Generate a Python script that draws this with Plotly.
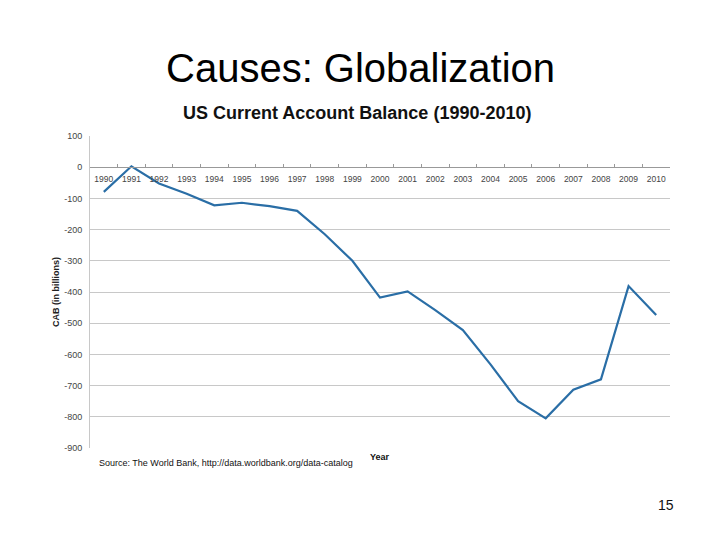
import plotly.graph_objects as go

years = [str(y) for y in range(1990, 2011)]
cab = [-79, 3, -52, -85, -122, -114, -125, -140, -215, -300, -418, -398,
       -458, -522, -632, -750, -805, -713, -680, -381, -474]
y_ticks = [100, 0, -100, -200, -300, -400, -500, -600, -700, -800, -900]
y_tick_text = [str(v) for v in y_ticks]

ymin, ymax = -900, 100
dom = [0.0, 1.0]
zero_pos = dom[0] + (0 - ymin) / (ymax - ymin) * (dom[1] - dom[0])

# page body has an 8px margin; shift everything accordingly
OFF = 8
W, H = 720 - OFF, 540 - OFF
l, t = 90 - OFF, 136 - OFF
r = 50
b = H - (448 - OFF)

fig = go.Figure()
fig.add_trace(go.Scatter(x=years, y=cab, mode="lines",
                         line=dict(color="#2a6ea6", width=2.2),
                         showlegend=False, hoverinfo="x+y"))

fig.update_layout(
    width=W, height=H,
    paper_bgcolor="white", plot_bgcolor="white",
    margin=dict(l=l, r=r, t=t, b=b, autoexpand=False),
    font=dict(family="Arial, Liberation Sans, sans-serif", color="#222"),
    xaxis=dict(type="category", range=[-0.5, 20.5], anchor="free",
               position=zero_pos, showgrid=False, automargin=False,
               tickangle=0, ticklabelstandoff=4,
               ticks="inside", tickson="boundaries", ticklen=3,
               tickcolor="#999", showline=True, linecolor="#999",
               linewidth=1,
               tickfont=dict(size=8.5, color="#444"), zeroline=False),
    yaxis=dict(range=[ymin, ymax], tickvals=y_ticks, ticktext=y_tick_text,
               showgrid=True, automargin=False, ticklabelstandoff=5,
               gridcolor="#c8c8c8", gridwidth=1, zeroline=False,
               showline=True, linecolor="#c8c8c8", ticks="",
               tickfont=dict(size=9, color="#444"), domain=dom,
               title=dict(text="<b>CAB (in billions)</b>",
                          font=dict(size=9, color="#222"), standoff=3)),
    annotations=[
        dict(text="Causes: Globalization", showarrow=False,
             font=dict(size=40, color="black")),
        dict(text="<b>US Current Account Balance (1990-2010)</b>",
             showarrow=False, font=dict(size=18, color="#111")),
        dict(text="<b>Year</b>", showarrow=False,
             font=dict(size=9, color="#111")),
        dict(text="Source: The World Bank, http://data.worldbank.org/data-catalog",
             showarrow=False, font=dict(size=9, color="#111")),
        dict(text="15", showarrow=False, font=dict(size=14, color="#111")),
    ],
)

pw, ph = W - l - r, H - t - b
def px(x):
    return (x - OFF - l) / pw
def py(y):
    return (H - b - (y - OFF)) / ph

ann = list(fig.layout.annotations)
pos = [(360, 68, "center"), (357, 113, "center"), (380, 457, "center"),
       (97, 463, "left"), (676, 505, "right")]
for a, (x, y, xa) in zip(ann, pos):
    a.xref = "paper"
    a.yref = "paper"
    a.x = px(x)
    a.y = py(y)
    a.xanchor = xa
    a.yanchor = "middle"
fig.layout.annotations = ann

fig.write_html("out.html")
